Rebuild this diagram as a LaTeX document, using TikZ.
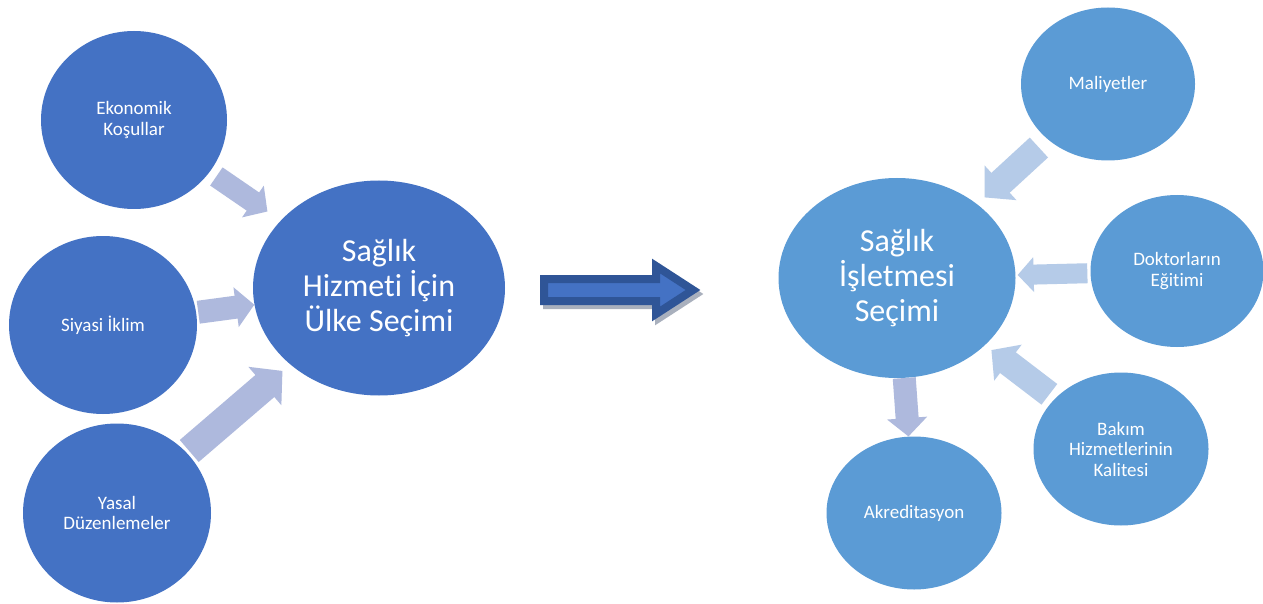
\documentclass[tikz,border=0pt]{standalone}
\usepackage{fontspec}
\setmainfont{Carlito}[Ligatures=NoCommon]
\usepackage{tikz}
\usetikzlibrary{positioning}
\usetikzlibrary{shapes.geometric}
\usetikzlibrary{arrows.meta}

\definecolor{leftblue}{HTML}{4472C4}
\definecolor{rightblue}{HTML}{5B9BD5}
\definecolor{leftarrow}{HTML}{AEB9DD}
\definecolor{rightarrow}{HTML}{B5CBE8}
\definecolor{bigline}{HTML}{2F5597}
\definecolor{bigshadow}{HTML}{A9B0BD}

\tikzset{
	factor/.style={ellipse, inner sep=0pt, text=white, align=center, font=\fontsize{19}{20.5}\selectfont},
	choice/.style={ellipse, inner sep=0pt, text=white, align=center, font=\fontsize{32}{35}\selectfont},
	feed/.style={line width=#1, -{Triangle[width=0pt 1.7, length=0pt 0.8]}}
}

\begin{document}
\begin{tikzpicture}[x=1pt, y=-1pt]
				\useasboundingbox (0,0) rectangle (1263,604);
				\fill[white] (0,0) rectangle (1263,604);
				
				\node[factor, fill=leftblue, minimum width=186pt, minimum height=178pt] (eko) at (134,120) {Ekonomik\\Koşullar};
				\node[factor, fill=leftblue, minimum width=188pt, minimum height=178pt] (siy) at (103,325) {Siyasi İklim};
				\node[factor, fill=leftblue, minimum width=188pt, minimum height=179pt] (yas) at (117,513) {Yasal\\Düzenlemeler};
				\node[choice, fill=leftblue, minimum width=252pt, minimum height=215pt] (hiz) at (379,288) {Sağlık\\Hizmeti İçin\\Ülke Seçimi};
				
				\node[choice, fill=rightblue, minimum width=237pt, minimum height=200pt] (isl) at (897,278) {Sağlık\\İşletmesi\\Seçimi};
				\node[factor, fill=rightblue, minimum width=174pt, minimum height=153pt] (mal) at (1108,84) {Maliyetler};
				\node[factor, fill=rightblue, minimum width=173pt, minimum height=152pt] (dok) at (1177,271) {Doktorların\\Eğitimi};
				\node[factor, fill=rightblue, minimum width=175pt, minimum height=153pt] (bak) at (1121,449) {Bakım\\Hizmetlerinin\\Kalitesi};
				\node[factor, fill=rightblue, minimum width=175pt, minimum height=153pt] (akr) at (914,513) {Akreditasyon};
				
				\draw[feed=22pt, leftarrow, shorten <=8pt, shorten >=16pt] (eko) -- (hiz);
				\draw[feed=23pt, leftarrow, shorten <=2pt] (siy) -- (hiz);
				\draw[feed=29pt, leftarrow, shorten <=3pt, shorten >=10pt] (yas) -- (hiz);
				\draw[feed=27pt, rightarrow, shorten <=12pt, shorten >=10pt] (mal) -- (isl);
				\draw[feed=20pt, rightarrow, shorten <=3pt, shorten >=2pt] (dok) -- (isl);
				\draw[feed=26pt, rightarrow, shorten <=7pt, shorten >=8pt] (bak) -- (isl);
				\draw[feed=23pt, leftarrow] (isl) -- (akr);
				
				% big arrow between the two choices
				\draw[bigshadow, fill=bigshadow, line width=8pt, shift={(3,4)}] (544,279) -- (656,279) -- (656,266) -- (693,290) -- (656,314) -- (656,301) -- (544,301) -- cycle;
				\draw[bigline, fill=leftblue, line width=8pt] (544,279) -- (656,279) -- (656,266) -- (693,290) -- (656,314) -- (656,301) -- (544,301) -- cycle;
\end{tikzpicture}
\end{document}
